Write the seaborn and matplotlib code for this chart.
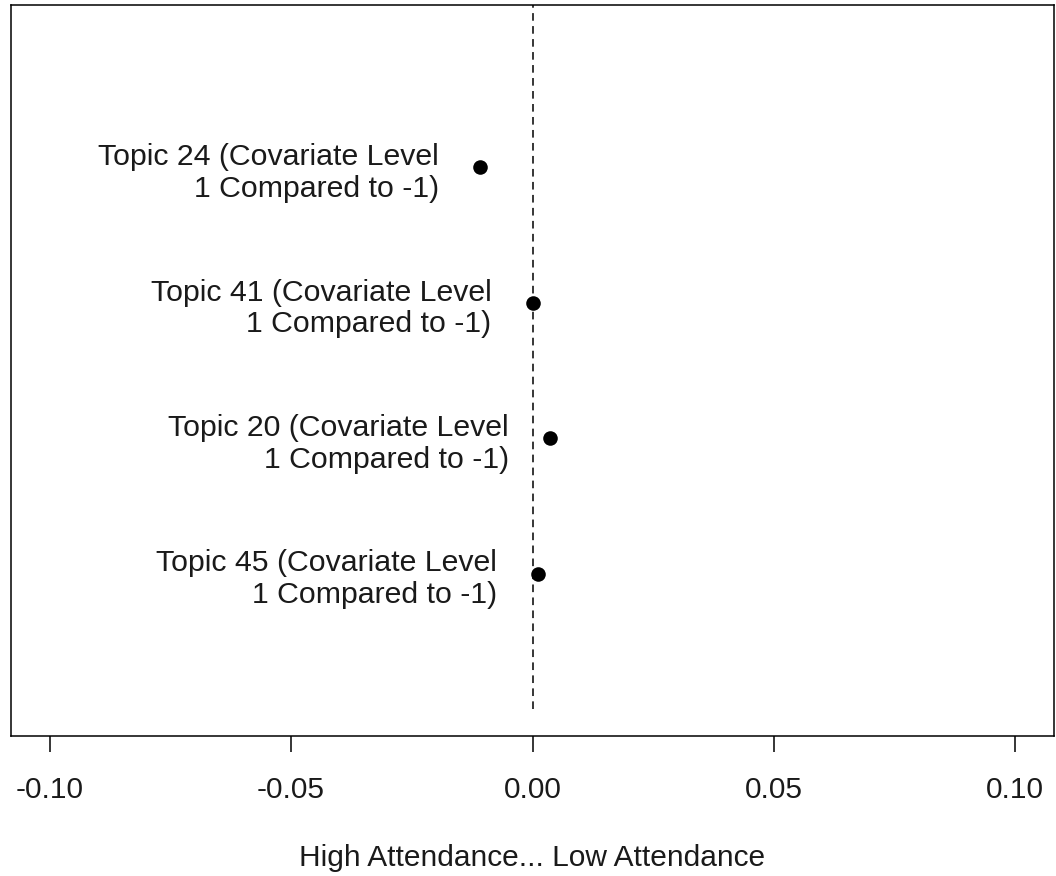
import matplotlib
matplotlib.use("Agg")
import matplotlib.pyplot as plt
import seaborn as sns
import pandas as pd

# values (bottom to top)
topics = ["Topic 45", "Topic 20", "Topic 41", "Topic 24"]
positions = [1, 2, 3, 4]
effects = [0.0012, 0.0037, 0.0001, -0.0108]
x_ticks = [-0.10, -0.05, 0.00, 0.05, 0.10]
x_tick_labels = ["-0.10", "-0.05", "0.00", "0.05", "0.10"]

sns.set_style("white")
plt.rcParams["font.family"] = ["Liberation Sans", "DejaVu Sans"]

df = pd.DataFrame({"topic": topics, "y": positions, "effect": effects})

fig = plt.figure(figsize=(10.56, 8.76), dpi=100)
ax = fig.add_axes([11 / 1056, 1 - 736 / 876, 1043 / 1056, 731 / 876])

# dashed zero line, then the point estimates
ax.plot([0, 0], [0, 6], color="black", lw=1.1, linestyle=(0, (5, 3.5)), zorder=1)
sns.scatterplot(data=df, x="effect", y="y", ax=ax, color="black", s=110,
                edgecolor="black", linewidth=0, zorder=3)

for _, row in df.iterrows():
    ax.annotate(f"{row['topic']} (Covariate Level\n1 Compared to -1)",
                xy=(row["effect"], row["y"]), xytext=(-30, -4),
                textcoords="offset points", ha="right", va="center",
                multialignment="right", fontsize=21.8, color="#1a1a1a",
                linespacing=1.17)

ax.set_xlim(-0.108, 0.108)
ax.set_ylim(-0.2, 5.2)
ax.set_xticks(x_ticks)
ax.set_xticklabels(x_tick_labels)
ax.set_yticks([])
ax.set_ylabel("")
ax.set_xlabel("High Attendance... Low Attendance", fontsize=21.5,
              labelpad=29, color="#1a1a1a")
ax.tick_params(axis="x", direction="out", length=11.5, width=1.1,
               pad=17, labelsize=21.5, bottom=True, colors="black",
               labelcolor="#1a1a1a")
for side in ["left", "right", "top", "bottom"]:
    ax.spines[side].set_visible(True)
    ax.spines[side].set_color("black")
    ax.spines[side].set_linewidth(1.1)

fig.savefig("out.png", dpi=100)
